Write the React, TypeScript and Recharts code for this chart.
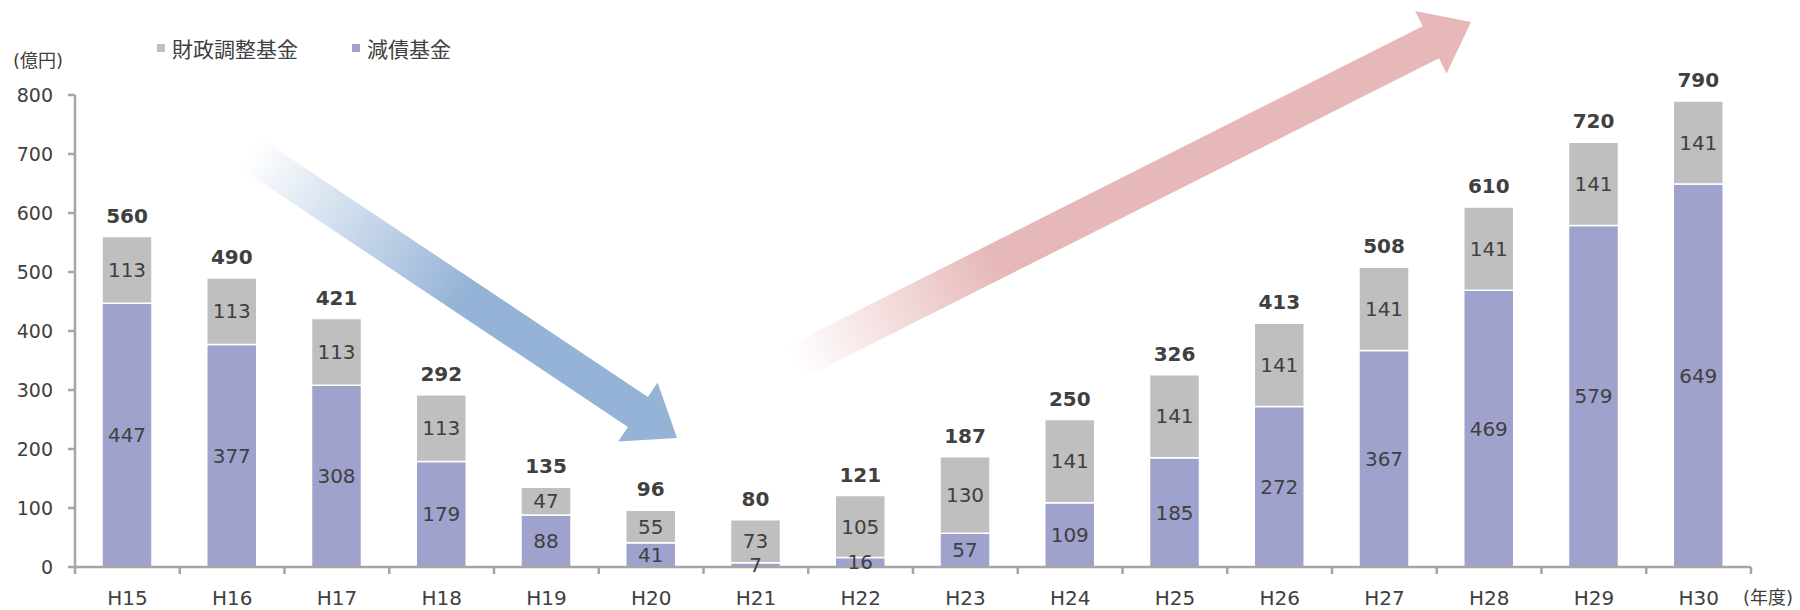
import React from 'react';
import { BarChart, Bar, XAxis, YAxis, LabelList, Legend } from 'recharts';

// ---- data ----
const categories = ['H15', 'H16', 'H17', 'H18', 'H19', 'H20', 'H21', 'H22', 'H23', 'H24', 'H25', 'H26', 'H27', 'H28', 'H29', 'H30'];
const reductionFund = [447, 377, 308, 179, 88, 41, 7, 16, 57, 109, 185, 272, 367, 469, 579, 649]; // 減債基金
const adjustmentFund = [113, 113, 113, 113, 47, 55, 73, 105, 130, 141, 141, 141, 141, 141, 141, 141]; // 財政調整基金
const totals = [560, 490, 421, 292, 135, 96, 80, 121, 187, 250, 326, 413, 508, 610, 720, 790];
const yTicks = [0, 100, 200, 300, 400, 500, 600, 700, 800];
const legendItems = [
  { name: '財政調整基金', color: '#BFBFBF' },
  { name: '減債基金', color: '#A0A2CE' },
];

const data = categories.map((c, i) => ({
  name: c,
  debt: reductionFund[i],
  adjust: adjustmentFund[i],
  total: totals[i],
}));

// ---- layout ----
const W = 1800;
const H = 610;
const MARGIN = { top: 95, right: 49, bottom: 0, left: 0 };
const Y_AXIS_W = 75;
const X_AXIS_H = 43;
const BAND = (W - MARGIN.left - MARGIN.right - Y_AXIS_W) / categories.length;
const AXIS_COLOR = '#A6A6A6';
const TEXT_COLOR = '#404040';
const FONT = "'DejaVu Sans', Verdana, 'Noto Sans CJK JP', sans-serif";

const XTick = (props: any) => {
  const { x, y, payload } = props;
  const isLast = payload.value === categories[categories.length - 1];
  return (
    <g>
      <line x1={x - BAND / 2} y1={y} x2={x - BAND / 2} y2={y + 7} stroke={AXIS_COLOR} strokeWidth={2.5} />
      {isLast && <line x1={x + BAND / 2} y1={y} x2={x + BAND / 2} y2={y + 7} stroke={AXIS_COLOR} strokeWidth={2.5} />}
      <text x={x} y={y + 38} textAnchor="middle" fill={TEXT_COLOR} fontSize={20}>
        {payload.value}
      </text>
    </g>
  );
};

const LegendContent = () => (
  <div style={{ display: 'flex', alignItems: 'center', fontFamily: FONT, fontSize: 21, color: TEXT_COLOR, whiteSpace: 'nowrap' }}>
    {legendItems.map((it, i) => (
      <div key={it.name} style={{ display: 'flex', alignItems: 'center', marginRight: i === 0 ? 54 : 0 }}>
        <span style={{ display: 'inline-block', width: 8, height: 8, background: it.color, marginRight: 7 }} />
        <span>{it.name}</span>
      </div>
    ))}
  </div>
);

type Pt = [number, number];
function arrowPolygon(tail: Pt, tip: Pt, shaftW: number, headW: number, headLen: number): string {
  const dx = tip[0] - tail[0];
  const dy = tip[1] - tail[1];
  const len = Math.hypot(dx, dy);
  const ux = dx / len;
  const uy = dy / len;
  const nx = -uy;
  const ny = ux;
  const bx = tip[0] - ux * headLen;
  const by = tip[1] - uy * headLen;
  const p = (x: number, y: number) => `${x.toFixed(1)},${y.toFixed(1)}`;
  return [
    p(tail[0] + nx * shaftW / 2, tail[1] + ny * shaftW / 2),
    p(bx + nx * shaftW / 2, by + ny * shaftW / 2),
    p(bx + nx * headW / 2, by + ny * headW / 2),
    p(tip[0], tip[1]),
    p(bx - nx * headW / 2, by - ny * headW / 2),
    p(bx - nx * shaftW / 2, by - ny * shaftW / 2),
    p(tail[0] - nx * shaftW / 2, tail[1] - ny * shaftW / 2),
  ].join(' ');
}

const blueTail: Pt = [250, 153];
const blueTip: Pt = [677, 438];
const redTail: Pt = [794, 363];
const redTip: Pt = [1471, 22];

export default function App() {
  return (
    <div style={{ position: 'absolute', left: 0, top: 0, width: W, height: H, fontFamily: FONT, background: '#fff' }}>
      <svg width={W} height={H} style={{ position: 'absolute', left: 0, top: 0 }}>
        <defs>
          <linearGradient id="blueGrad" gradientUnits="userSpaceOnUse" x1={blueTail[0]} y1={blueTail[1]} x2={blueTip[0]} y2={blueTip[1]}>
            <stop offset="0" stopColor="#95B3D7" stopOpacity={0} />
            <stop offset="0.5" stopColor="#95B3D7" stopOpacity={1} />
            <stop offset="1" stopColor="#95B3D7" stopOpacity={1} />
          </linearGradient>
          <linearGradient id="redGrad" gradientUnits="userSpaceOnUse" x1={redTail[0]} y1={redTail[1]} x2={redTip[0]} y2={redTip[1]}>
            <stop offset="0" stopColor="#E6B8B7" stopOpacity={0} />
            <stop offset="0.3" stopColor="#E6B8B7" stopOpacity={1} />
            <stop offset="1" stopColor="#E6B8B7" stopOpacity={1} />
          </linearGradient>
        </defs>
        <polygon points={arrowPolygon(blueTail, blueTip, 36, 71, 47)} fill="url(#blueGrad)" />
        <polygon points={arrowPolygon(redTail, redTip, 36, 70, 45)} fill="url(#redGrad)" />
        <text x={13} y={67} fontSize={18} fill={TEXT_COLOR}>(億円)</text>
        <text x={1743} y={604} fontSize={18} fill={TEXT_COLOR}>(年度)</text>
      </svg>
      <div style={{ position: 'absolute', left: 0, top: 0 }}>
        <BarChart width={W} height={H} data={data} margin={MARGIN} barSize={50}>
          <XAxis
            dataKey="name"
            height={X_AXIS_H}
            interval={0}
            tickLine={false}
            tickSize={0}
            tickMargin={0}
            axisLine={{ stroke: AXIS_COLOR, strokeWidth: 2.5 }}
            tick={<XTick />}
          />
          <YAxis
            width={Y_AXIS_W}
            domain={[0, 800]}
            ticks={yTicks}
            interval={0}
            tickSize={7}
            tickMargin={15}
            axisLine={{ stroke: AXIS_COLOR, strokeWidth: 2.5 }}
            tickLine={{ stroke: AXIS_COLOR, strokeWidth: 2.5 }}
            tick={{ fill: TEXT_COLOR, fontSize: 19 }}
          />
          <Legend
            layout="horizontal"
            verticalAlign="middle"
            align="center"
            content={<LegendContent />}
            wrapperStyle={{ top: 33, left: 157, width: 'auto', height: 'auto' }}
          />
          <Bar dataKey="debt" name="減債基金" stackId="a" fill="#A0A2CE" stroke="#fff" strokeWidth={1.5} isAnimationActive={false}>
            <LabelList dataKey="debt" position="center" fill={TEXT_COLOR} fontSize={20} />
          </Bar>
          <Bar dataKey="adjust" name="財政調整基金" stackId="a" fill="#BFBFBF" stroke="#fff" strokeWidth={1.5} isAnimationActive={false}>
            <LabelList dataKey="adjust" position="center" fill={TEXT_COLOR} fontSize={20} />
            <LabelList dataKey="total" position="top" offset={14} fill={TEXT_COLOR} fontSize={20} fontWeight="bold" />
          </Bar>
        </BarChart>
      </div>
    </div>
  );
}
